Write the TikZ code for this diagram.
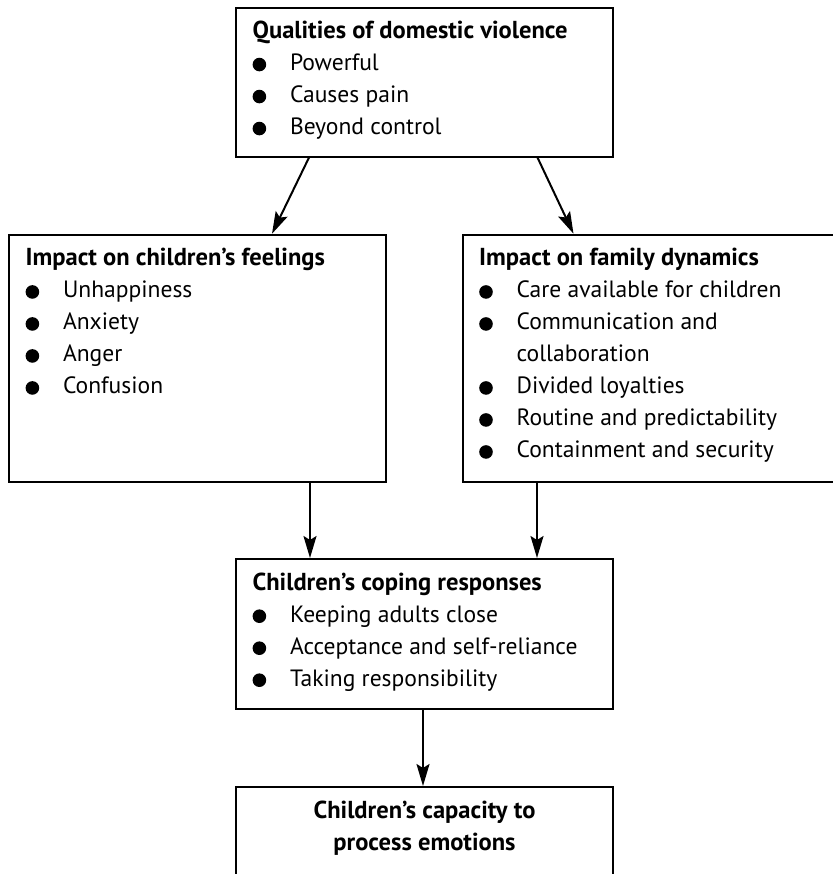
\documentclass[tikz,border=0pt]{standalone}
\usepackage{fontspec}
\setmainfont{PT Sans}
\usetikzlibrary{arrows.meta,calc}
\newlength\calA
\newlength\calB
\newcommand\rf{\fontsize{\rsz pt}{32pt}\selectfont}
\newcommand\bfnt{\fontsize{\bsz pt}{32pt}\selectfont\bfseries}
\newcommand\bul{\makebox[37.4pt][l]{\tikz[baseline=0pt]\fill[black] (6.9pt,5.8pt) circle[radius=6.8pt];}}
\newcommand\ind{\hspace*{37.4pt}}
\tikzset{
  boxst/.style={draw=black, line width=2pt, rectangle, inner sep=0pt, minimum width=377pt},
  txt/.style={inner sep=0pt, outer sep=0pt, align=left, font=\rf, anchor=north west},
  arr/.style={line width=2pt, -{Stealth[length=22pt,width=13pt,inset=4pt]}}
}
\begin{document}
\settowidth\calA{\fontsize{20pt}{32pt}\selectfont Care available for children}%
\settowidth\calB{\fontsize{20pt}{32pt}\selectfont\bfseries Qualities of domestic violence}%
\pgfmathsetmacro\rsz{20*265/\calA}%
\pgfmathsetmacro\bsz{20*315/\calB}%
\begin{tikzpicture}[x=1pt,y=-1pt]
\useasboundingbox (0,0) rectangle (832,874);
% boxes
\node[boxst, minimum height=148.7pt] (q) at (424.5,82.2) {};
\node[boxst, minimum height=247.5pt] (l) at (197.5,358.5) {};
\node[boxst, minimum height=247.5pt] (r) at (651.5,358.5) {};
\node[boxst, minimum height=150pt] (c) at (424.5,634) {};
\node[boxst, minimum height=89pt] (e) at (424.5,831.5) {};
% texts
\node[txt] (qt) at ([shift={(17.6pt,-9.1pt)}]q.north west)
  {\strut{\bfnt Qualities of domestic violence}\\
   \bul Powerful\\
   \bul Causes pain\\
   \bul Beyond control};
\node[txt] (lt) at ([shift={(17.6pt,-9.6pt)}]l.north west)
  {\strut{\bfnt Impact on children’s feelings}\\
   \bul Unhappiness\\
   \bul Anxiety\\
   \bul Anger\\
   \bul Confusion};
\node[txt] (rt) at ([shift={(17.2pt,-9.6pt)}]r.north west)
  {\strut{\bfnt Impact on family dynamics}\\
   \bul Care available for children\\
   \bul Communication and\\
   \ind collaboration\\
   \bul Divided loyalties\\
   \bul Routine and predictability\\
   \bul Containment and security};
\node[txt] (ct) at ([shift={(17.6pt,-9.6pt)}]c.north west)
  {\strut{\bfnt Children’s coping responses}\\
   \bul Keeping adults close\\
   \bul Acceptance and self-reliance\\
   \bul Taking responsibility};
\node[txt, anchor=north, align=center, font=\bfnt] (et) at ([yshift=-9.6pt]e.north)
  {\strut Children’s capacity to\\ process emotions};
% connectors
\draw[arr] ([xshift=74pt]q.south west) -- ([xshift=264pt]l.north west);
\draw[arr] ([xshift=302.5pt]q.south west) -- ([xshift=111.5pt]r.north west);
\draw[arr] ([xshift=302pt]l.south west) -- ([xshift=75pt]c.north west);
\draw[arr] ([xshift=75pt]r.south west) -- ([xshift=302pt]c.north west);
\draw[arr] ([xshift=188pt]c.south west) -- ([xshift=188pt]e.north west);
\end{tikzpicture}
\end{document}
